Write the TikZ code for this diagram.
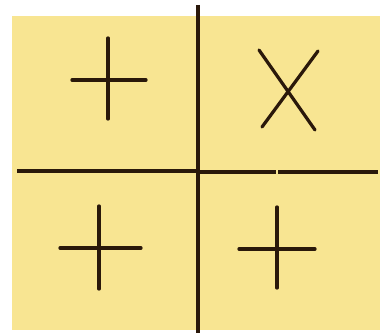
\documentclass[tikz,border=0pt]{standalone}
\usepackage{tikz}
\usetikzlibrary{calc}
\definecolor{paper}{RGB}{248,229,146}
\definecolor{ink}{RGB}{42,24,10}
\tikzset{
    axisline/.style={line width=5pt,draw=ink},
    signline/.style={line width=4.6pt,draw=ink,line cap=round}
}
\begin{document}
\begin{tikzpicture}[x=0.5mm,y=-0.5mm]
  \useasboundingbox (0,0) rectangle (385,333);

  % 纸面
  \fill[paper] (12,16) rectangle (380,330);

  % 坐标轴
  \coordinate (O) at (198,171);
  \coordinate (T) at (198,5);
  \coordinate (B) at (198,333);
  \coordinate (L) at (17,171);
  \coordinate (R1) at (276,172);
  \coordinate (R2) at (278,172);
  \coordinate (R) at (378,172);
  \draw[axisline] (T) -- (B);
  \draw[axisline] (L) -- (O);
  \draw[axisline] (198,172) -- (R1);
  \draw[axisline] (R2) -- (R);

  % 三个加号
  \foreach \cx/\cy/\tp/\bt/\lf/\rt in {108/80/38/119/72/146, 99/248/206/289/60/141, 277/249/207/288/239/315}{
    \draw[signline] (\cx,\tp) -- (\cx,\bt);
    \draw[signline] (\lf,\cy) -- (\rt,\cy);
  }

  % 叉号
  \coordinate (X1) at (259,50);
  \coordinate (X2) at (315,130);
  \coordinate (X3) at (318,51);
  \coordinate (X4) at (262,127);
  \draw[signline] (X1) -- (X2);
  \draw[signline] (X3) -- (X4);
\end{tikzpicture}
\end{document}
